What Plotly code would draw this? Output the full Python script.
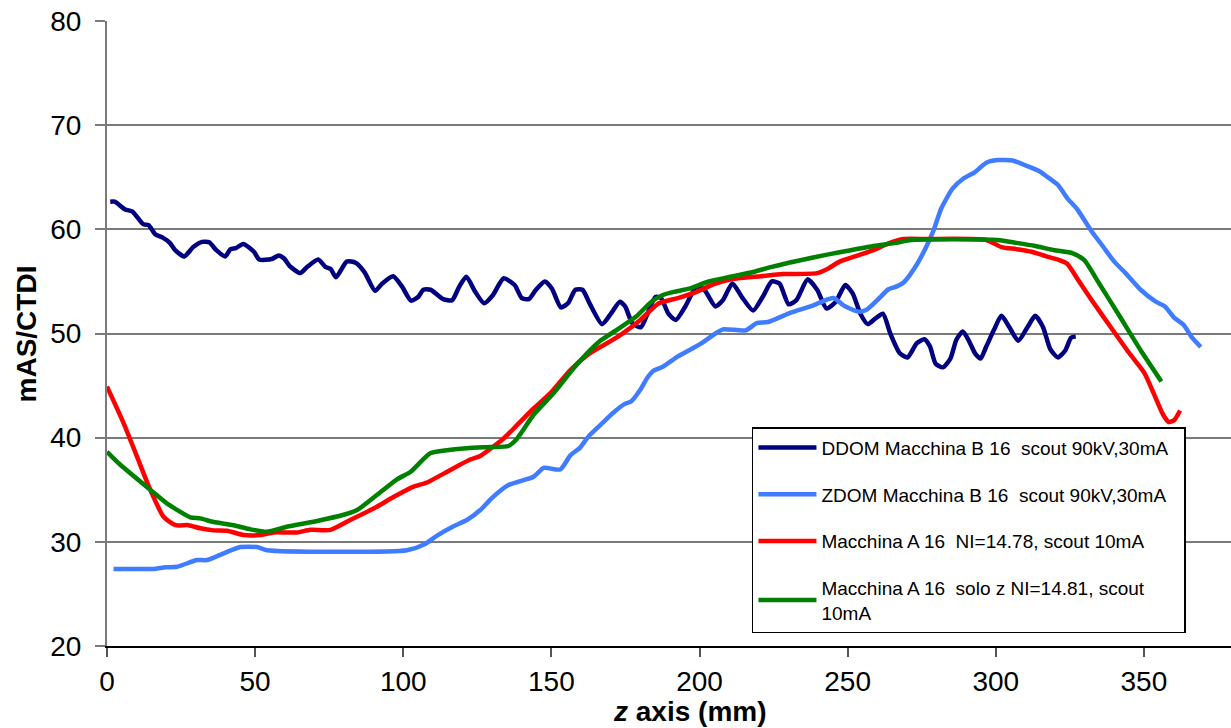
import plotly.graph_objects as go

# ---- data (z in mm, value mAS/CTDI) ----
ddom_z = [1.1, 2.6, 6.2, 8.6, 12.2, 14.0, 16.4, 18.8, 21.2, 23.0, 26.1, 29.1, 32.1, 34.5, 36.9, 39.9, 41.7,
          43.5, 46.0, 49.6, 51.4, 55.6, 58.0, 59.8, 61.6, 65.2, 67.6, 71.3, 73.7, 75.5, 77.3, 80.9, 83.9,
          86.9, 90.5, 92.9, 96.6, 99.6, 102.6, 105.0, 106.8, 109.2, 113.5, 116.5, 118.9, 121.3, 124.3,
          127.3, 130.3, 133.9, 137.6, 140.0, 142.4, 144.8, 147.8, 150.2, 153.2, 155.6, 158.1, 160.5, 162.9,
          167.1, 170.1, 173.1, 174.9, 177.3, 180.2, 182.0, 185.1, 187.0, 189.5, 192.0, 195.2, 199.0, 201.6,
          205.4, 207.9, 211.1, 214.3, 218.1, 221.3, 224.4, 227.0, 230.1, 232.7, 236.5, 239.7, 242.9, 246.0,
          249.2, 251.7, 254.3, 256.8, 259.4, 261.9, 264.4, 267.6, 270.2, 273.3, 275.9, 277.8, 279.7, 282.2,
          284.7, 286.7, 288.9, 291.1, 293.0, 294.9, 296.8, 299.4, 301.9, 304.5, 307.6, 310.8, 313.3, 315.9,
          318.4, 321.0, 323.5, 325.4, 327.0]
ddom_v = [62.65, 62.65, 61.9, 61.7, 60.5, 60.4, 59.5, 59.2, 58.7, 58.0, 57.4, 58.3, 58.8, 58.75, 58.0, 57.4,
          58.1, 58.2, 58.6, 57.85, 57.1, 57.15, 57.5, 57.2, 56.5, 55.8, 56.4, 57.1, 56.4, 56.2, 55.4, 56.9,
          56.8, 55.9, 54.1, 54.8, 55.5, 54.5, 53.15, 53.5, 54.2, 54.2, 53.3, 53.2, 54.5, 55.45, 54.0, 52.9,
          53.7, 55.3, 54.65, 53.4, 53.3, 54.2, 55.0, 54.3, 52.5, 52.9, 54.2, 54.2, 52.9, 50.9, 51.9, 53.05,
          52.6, 51.0, 50.6, 51.6, 53.5, 53.4, 51.9, 51.3, 52.6, 54.5, 54.2, 52.6, 53.2, 54.8, 53.5, 52.2,
          53.5, 55.0, 54.8, 52.8, 53.2, 55.2, 54.2, 52.4, 53.05, 54.65, 53.85, 51.9, 50.9, 51.45, 51.9, 50.0,
          48.1, 47.7, 49.05, 49.45, 48.75, 47.1, 46.75, 47.6, 49.4, 50.2, 49.2, 48.1, 47.6, 48.75, 50.35,
          51.7, 50.65, 49.3, 50.65, 51.7, 50.65, 48.5, 47.7, 48.4, 49.6, 49.7]

zdom_z = [2.2, 15.7, 19.7, 23.6, 30.4, 33.7, 39.4, 45.0, 50.6, 54.0, 101.2, 107.4, 111.4, 117.0, 121.5, 126.0,
          129.9, 135.5, 144.0, 147.4, 153.0, 156.4, 159.7, 162.5, 166.5, 170.5, 174.5, 177.0, 180.0, 182.5,
          184.4, 187.6, 192.7, 196.5, 200.3, 205.4, 207.9, 215.6, 219.3, 223.1, 230.8, 238.4, 243.5, 245.4,
          248.6, 253.6, 256.2, 260.0, 263.8, 266.4, 268.9, 273.3, 276.5, 279.0, 281.6, 285.4, 289.2, 293.0,
          296.8, 300.6, 305.7, 309.5, 314.6, 317.1, 321.0, 324.1, 327.3, 332.4, 336.2, 340.0, 343.8, 348.9,
          354.0, 357.1, 360.3, 363.5, 366.0, 369.2]
zdom_v = [27.4, 27.4, 27.55, 27.6, 28.25, 28.25, 28.9, 29.5, 29.5, 29.2, 29.2, 29.8, 30.6, 31.5, 32.1, 33.05,
          34.2, 35.45, 36.25, 37.1, 36.95, 38.3, 39.05, 40.1, 41.2, 42.3, 43.2, 43.5, 44.6, 45.8, 46.4, 46.8,
          47.8, 48.4, 49.0, 50.0, 50.4, 50.3, 51.0, 51.1, 52.0, 52.7, 53.3, 53.4, 52.7, 52.1, 52.25, 53.2,
          54.25, 54.5, 54.9, 56.6, 58.3, 59.9, 62.0, 63.9, 64.9, 65.5, 66.4, 66.65, 66.6, 66.2, 65.6, 65.1,
          64.25, 63.0, 62.0, 59.8, 58.35, 56.9, 55.8, 54.2, 53.05, 52.6, 51.5, 50.8, 49.7, 48.7]

ma_z = [0, 5.6, 10.1, 14.6, 19.1, 23.1, 27.5, 31.5, 36.0, 40.5, 46.1, 51.7, 56.2, 64.1, 68.6, 75.4, 82.1,
        90.0, 96.7, 103.5, 108.0, 115.9, 122.6, 126.0, 133.8, 138.4, 144.0, 149.6, 156.4, 162.0, 166.5,
        172.5, 180.0, 186.3, 192.7, 199.0, 205.4, 213.0, 220.6, 228.2, 239.7, 243.5, 247.3, 253.6, 258.7,
        263.8, 268.9, 276.5, 296.8, 301.9, 307.0, 312.1, 317.1, 321.0, 324.1, 327.9, 332.4, 338.7, 345.1,
        350.2, 353.3, 356.5, 358.4, 360.3, 362.2]
ma_v = [44.9, 41.4, 38.2, 35.0, 32.4, 31.6, 31.6, 31.3, 31.1, 31.07, 30.65, 30.65, 30.9, 30.9, 31.15, 31.15,
        32.1, 33.2, 34.3, 35.3, 35.7, 36.9, 37.9, 38.25, 39.9, 41.2, 42.8, 44.25, 46.5, 47.9, 48.7, 49.7,
        51.3, 52.9, 53.4, 54.0, 54.8, 55.3, 55.5, 55.7, 55.8, 56.25, 56.9, 57.5, 58.0, 58.65, 59.07, 59.07,
        58.98, 58.3, 58.1, 57.85, 57.4, 57.1, 56.7, 55.1, 53.2, 50.65, 48.1, 46.2, 44.25, 42.2, 41.5, 41.7,
        42.6]

maz_z = [0, 4.5, 14.6, 20.2, 28.1, 31.5, 36.0, 42.7, 48.4, 54.0, 60.7, 70.9, 79.9, 84.4, 91.1, 97.9, 102.4,
         109.1, 114.8, 121.5, 129.4, 135.5, 138.4, 144.0, 150.7, 157.5, 163.1, 166.5, 171.3, 178.5, 183.8,
         187.6, 191.4, 196.5, 202.8, 210.5, 218.1, 224.4, 233.3, 243.5, 251.1, 258.7, 266.4, 271.4, 300.6,
         307.0, 313.3, 319.7, 326.0, 329.8, 334.9, 341.3, 348.9, 355.9]
maz_v = [38.65, 37.4, 35.0, 33.7, 32.35, 32.25, 31.9, 31.6, 31.2, 30.97, 31.45, 32.0, 32.6, 33.05, 34.5, 36.0,
         36.7, 38.5, 38.8, 38.98, 39.1, 39.2, 39.9, 42.2, 44.25, 46.65, 48.4, 49.3, 50.2, 51.6, 53.05, 53.7,
         54.0, 54.3, 54.97, 55.45, 55.9, 56.4, 56.99, 57.6, 58.0, 58.4, 58.7, 58.98, 58.98, 58.7, 58.4, 58.0,
         57.7, 57.06, 54.8, 51.9, 48.4, 45.4]

names = ["DDOM Macchina B 16\u00a0 scout 90kV,30mA\u00a0\u00a0",
         "ZDOM Macchina B 16\u00a0 scout 90kV,30mA",
         "Macchina A 16\u00a0 NI=14.78, scout 10mA",
         "Macchina A 16\u00a0 solo z NI=14.81, scout<br>10mA"]
colors = ["#000080", "#3f7cff", "#ff0000", "#008000"]
series = [(ddom_z, ddom_v), (zdom_z, zdom_v), (ma_z, ma_v), (maz_z, maz_v)]

x_ticks = [0, 50, 100, 150, 200, 250, 300, 350]
y_ticks = [20, 30, 40, 50, 60, 70, 80]

FONT = "Arial, 'Liberation Sans', sans-serif"

fig = go.Figure()
for i, ((zx, vy), nm, col) in enumerate(zip(series, names, colors)):
    fig.add_trace(go.Scatter(x=zx, y=vy, mode="lines", name=nm, legendgroup="g%d" % i,
                             line=dict(color=col, width=4.5, shape="spline", smoothing=0.6)))

fig.update_layout(
    width=1231, height=728,
    margin=dict(l=107, r=0, t=21, b=82),
    paper_bgcolor="white", plot_bgcolor="white",
    font=dict(family=FONT, color="black"),
    showlegend=True,
    legend=dict(x=0.5738, y=0.35, xanchor="left", yanchor="top",
                bgcolor="white", bordercolor="#000000", borderwidth=1.5,
                font=dict(size=19, family=FONT, color="black"),
                tracegroupgap=19, itemwidth=58, traceorder="grouped"),
    xaxis=dict(range=[0, 379.4], tickvals=x_ticks, ticktext=[str(t) for t in x_ticks],
               showgrid=False, zeroline=False, showline=True, linecolor="#000000", linewidth=2,
               ticks="outside", ticklen=9, tickwidth=1.5, tickcolor="#555555",
               tickfont=dict(size=28, family=FONT, color="black")),
    yaxis=dict(range=[20, 80], tickvals=y_ticks, ticktext=[str(t) for t in y_ticks],
               showgrid=True, gridcolor="#7a7a7a", gridwidth=2, zeroline=False,
               showline=True, linecolor="#7a7a7a", linewidth=2,
               ticks="outside", ticklen=10, tickwidth=2, tickcolor="#7a7a7a",
               ticklabelstandoff=8,
               tickfont=dict(size=28, family=FONT, color="black")),
    annotations=[
        dict(text="<b><i>z</i> axis (mm)</b>", xref="paper", yref="paper", x=0.519, y=-0.104,
             xanchor="center", yanchor="middle", showarrow=False,
             font=dict(size=28, family=FONT, color="black")),
        dict(text="<b>mAS/CTDI</b>", xref="paper", yref="paper", x=-0.0712, y=0.5,
             xanchor="center", yanchor="middle", textangle=-90, showarrow=False,
             font=dict(size=28, family=FONT, color="black")),
    ],
)

fig.write_html("out.html")
